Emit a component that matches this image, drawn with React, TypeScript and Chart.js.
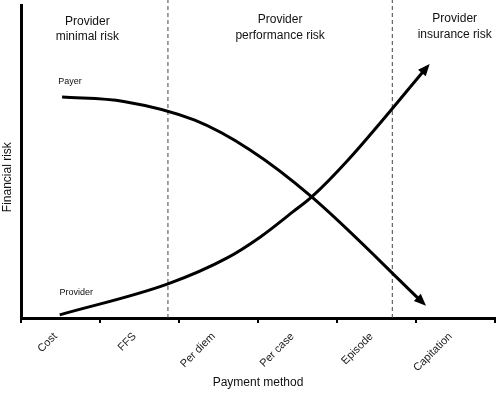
import React, { useEffect, useRef } from "react";
import { Chart, registerables } from "chart.js";

Chart.register(...registerables);

const categories = ["Cost", "FFS", "Per diem", "Per case", "Episode", "Capitation"];

const payerX = [0.52, 1.3, 2.2, 2.9, 3.68, 5.09];
const payerY = [7.06, 6.92, 6.32, 5.37, 3.87, 0.48];

const providerX = [0.49, 1.86, 2.61, 3.03, 3.44, 3.68, 4.14, 5.14];
const providerY = [0.1, 1.09, 1.92, 2.59, 3.39, 3.87, 5.05, 8.02];

const dividerX = [1.86, 4.7];

const regionLabels = [
  { x: 0.84, lines: ["Provider", "minimal risk"], y: [9.46, 8.98] },
  { x: 3.28, lines: ["Provider", "performance risk"], y: [9.52, 9.01] },
  { x: 5.49, lines: ["Provider", "insurance risk"], y: [9.55, 9.04] },
];

const curveLabels = [
  { text: "Payer", x: 0.62, y: 7.54 },
  { text: "Provider", x: 0.7, y: 0.83 },
];

const yTitle = { text: "Financial risk", y: 4.5 };

const FONT = "'Liberation Sans', Arial, Helvetica, sans-serif";

const toPoints = (xs: number[], ys: number[]) => xs.map((x, i) => ({ x, y: ys[i] }));

const annotationPlugin = {
  id: "annotations",
  afterDatasetsDraw(chart: any) {
    const ctx = chart.ctx;
    const xs = chart.scales.xl;
    const ys = chart.scales.y;
    ctx.save();
    // arrowheads
    [0, 1].forEach((di) => {
      const meta = chart.getDatasetMeta(di);
      const pts = meta.data;
      const n = pts.length;
      const p1 = pts[n - 1];
      const p0 = pts[n - 2];
      const ang = Math.atan2(p1.y - p0.y, p1.x - p0.x);
      const len = 12;
      const half = 5;
      const tipX = p1.x + Math.cos(ang) * 4;
      const tipY = p1.y + Math.sin(ang) * 4;
      ctx.beginPath();
      ctx.moveTo(tipX, tipY);
      ctx.lineTo(
        tipX - Math.cos(ang) * len + Math.sin(ang) * half,
        tipY - Math.sin(ang) * len - Math.cos(ang) * half
      );
      ctx.lineTo(
        tipX - Math.cos(ang) * len - Math.sin(ang) * half,
        tipY - Math.sin(ang) * len + Math.cos(ang) * half
      );
      ctx.closePath();
      ctx.fillStyle = "#000";
      ctx.fill();
    });
    ctx.fillStyle = "#111";
    ctx.textAlign = "center";
    ctx.textBaseline = "middle";
    ctx.font = `12px ${FONT}`;
    regionLabels.forEach((r) => {
      r.lines.forEach((line, i) => {
        ctx.fillText(line, xs.getPixelForValue(r.x), ys.getPixelForValue(r.y[i]));
      });
    });
    ctx.font = `9px ${FONT}`;
    curveLabels.forEach((c) => {
      ctx.fillText(c.text, xs.getPixelForValue(c.x), ys.getPixelForValue(c.y));
    });
    // y axis title
    ctx.font = `12px ${FONT}`;
    ctx.translate(chart.chartArea.left - 13, ys.getPixelForValue(yTitle.y));
    ctx.rotate(-Math.PI / 2);
    ctx.fillText(yTitle.text, 0, 0);
    ctx.restore();
  },
};

export default function App() {
  const ref = useRef<HTMLCanvasElement | null>(null);
  useEffect(() => {
    if (!ref.current) return;
    const dashed = dividerX.map((x) => ({
      type: "line" as const,
      data: [
        { x, y: 0 },
        { x, y: 10.4 },
      ],
      xAxisID: "xl",
      borderColor: "#444",
      borderWidth: 1,
      borderDash: [4, 3],
      pointRadius: 0,
      clip: 8,
    }));
    const chart = new Chart(ref.current, {
      type: "line",
      data: {
        labels: categories,
        datasets: [
          {
            label: "Payer",
            data: toPoints(payerX, payerY),
            xAxisID: "xl",
            borderColor: "#000",
            borderWidth: 3,
            pointRadius: 0,
            cubicInterpolationMode: "monotone",
            clip: 8,
          },
          {
            label: "Provider",
            data: toPoints(providerX, providerY),
            xAxisID: "xl",
            borderColor: "#000",
            borderWidth: 3,
            pointRadius: 0,
            cubicInterpolationMode: "monotone",
            clip: 8,
          },
          ...dashed,
        ] as any,
      },
      options: {
        animation: false,
        responsive: true,
        maintainAspectRatio: false,
        layout: { padding: { top: 5, right: 5, bottom: 2, left: 0 } },
        plugins: { legend: { display: false }, tooltip: { enabled: false } },
        scales: {
          x: {
            type: "category",
            offset: true,
            position: "bottom",
            grid: {
              offset: true,
              drawOnChartArea: false,
              drawTicks: true,
              tickLength: 5,
              color: "#000",
              lineWidth: 2,
            },
            border: { display: true, color: "#000", width: 3 },
            ticks: {
              minRotation: 45,
              maxRotation: 45,
              color: "#222",
              font: { family: FONT, size: 11 },
              padding: 7,
              labelOffset: -5,
            },
            title: {
              display: true,
              text: "Payment method",
              color: "#111",
              font: { family: FONT, size: 12 },
              padding: 4,
            },
            afterFit: (s: any) => {
              s.height = 76;
            },
          },
          xl: {
            type: "linear",
            display: false,
            min: 0,
            max: 6,
          },
          y: {
            type: "linear",
            min: 0,
            max: 10,
            grid: { display: false, drawTicks: false },
            border: { display: true, color: "#000", width: 3 },
            ticks: { display: false },
            afterFit: (s: any) => {
              s.width = 21;
            },
          },
        },
      } as any,
      plugins: [annotationPlugin],
    });
    return () => chart.destroy();
  }, []);
  return (
    <div style={{ position: "fixed", left: 0, top: 0, width: 500, height: 396, background: "#fff" }}>
      <canvas ref={ref} />
    </div>
  );
}
